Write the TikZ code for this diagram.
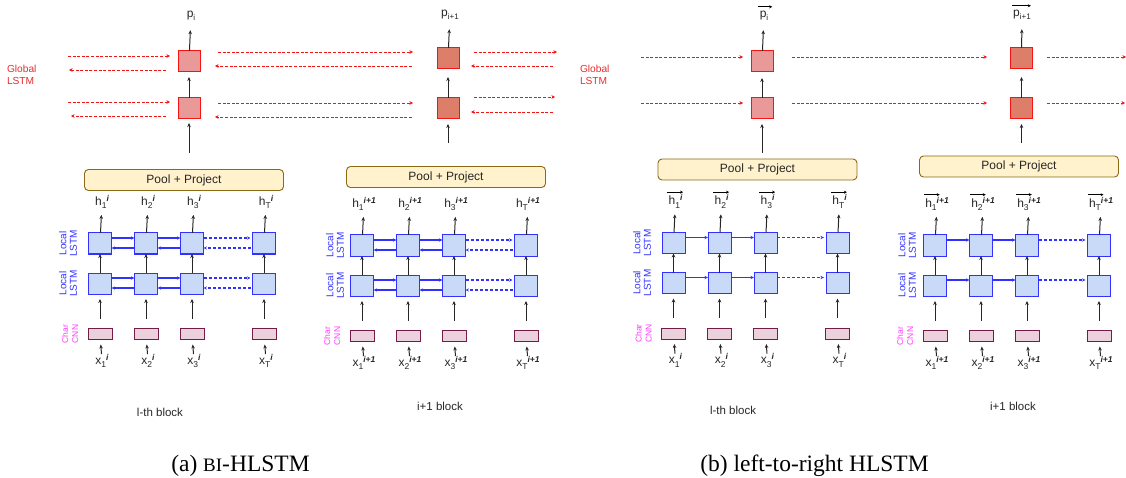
\documentclass[tikz,border=0pt]{standalone}
\usepackage{fontspec}
\setmainfont{Liberation Sans}
\newfontfamily\capfont{Liberation Serif}
\usetikzlibrary{arrows.meta,calc}
\definecolor{gred}{RGB}{245,20,20}
\definecolor{gfillA}{RGB}{234,153,153}
\definecolor{gfillB}{RGB}{221,126,107}
\definecolor{lblue}{RGB}{50,50,255}
\definecolor{lfill}{RGB}{201,218,248}
\definecolor{cnnd}{RGB}{116,27,71}
\definecolor{cnnf}{RGB}{234,209,220}
\definecolor{pooll}{RGB}{140,105,20}
\definecolor{poolf}{RGB}{255,242,204}
\definecolor{magent}{RGB}{255,60,255}
\definecolor{labred}{RGB}{230,45,45}
\newcommand{\hxlab}[3]{#1\raisebox{-3.5pt}{\fontsize{8.5}{9}\selectfont #2}\raisebox{4pt}{\fontsize{8.5}{9}\selectfont\bfseries\itshape #3}}
\newcommand{\plab}[1]{p\raisebox{-3pt}{\fontsize{8}{9}\selectfont #1}}
\tikzset{
  every node/.style={inner sep=0pt, outer sep=0pt},
  gboxA/.style={draw=gred, fill=gfillA, line width=1pt, minimum width=22pt, minimum height=21pt},
  gboxB/.style={gboxA, fill=gfillB},
  lbox/.style={draw=lblue, fill=lfill, line width=1pt, minimum width=23pt, minimum height=21pt},
  cnnbox/.style={draw=cnnd, fill=cnnf, line width=0.9pt, minimum width=24pt, minimum height=11pt},
  poolbox/.style={draw=pooll, fill=poolf, rounded corners=4pt, line width=0.9pt, minimum width=199pt, minimum height=21pt, font=\fontsize{12}{14}\selectfont, text=black!85},
  varr/.style={-{Stealth[length=4pt,width=3.5pt]}, line width=1pt, black!85},
  vecarr/.style={-{Stealth[length=3pt,width=3pt]}, line width=0.8pt, black},
  barr/.style={-{Stealth[length=3.5pt,width=3.2pt]}, line width=1.2pt, lblue},
  bdash/.style={barr, dash pattern=on 3pt off 2pt},
  rdash/.style={-{Stealth[length=3.5pt,width=3.5pt]}, line width=0.8pt, gred, dash pattern=on 3pt off 1.6pt},
  lab/.style={font=\fontsize{12}{14}\selectfont, text=black!85},
  blab/.style={font=\fontsize{11.5}{14}\selectfont, text=black!85},
  loclab/.style={rotate=90, align=center, text=lblue, font=\fontsize{10}{10.5}\selectfont},
  cnnlab/.style={rotate=90, align=center, text=magent, font=\fontsize{8.5}{10}\selectfont},
  caplab/.style={font=\capfont\fontsize{23.5}{28}\selectfont},
}
% #1 prefix, #2 x0, #3 y0, #4 pool y, #5 sup, #6 bidir, #7 vector, #8 label x offset
\newcommand{\lblock}[8]{%
  \node[poolbox] (#1pool) at (#2+84,#4) {Pool + Project};
  \node[loclab] (#1lu) at (#2#8,#3) {Local\\LSTM};
  \node[loclab] (#1ld) at (#2#8,#3+40) {Local\\LSTM};
  \node[cnnlab] (#1lc) at (#2-30,#3+90.5) {Char\\CNN};
  \foreach \k/\dx in {1/0, 2/46, 3/92, T/164} {
    \node[lbox] (#1u\k) at (#2+\dx,#3) {};
    \node[lbox] (#1d\k) at (#2+\dx,#3+40) {};
    \node[cnnbox] (#1c\k) at (#2+\dx,#3+90.5) {};
    \node[lab] (#1h\k) at (#2+\dx+2,#3-41.5) {\hxlab{h}{\k}{#5}};
    \node[lab] (#1x\k) at (#2+\dx+2,#3+117.5) {\hxlab{x}{\k}{#5}};
    \draw[varr, shorten >=5pt] (#1x\k) -- (#1c\k);
    \draw[varr, shorten <=10pt, shorten >=5pt] (#1c\k) -- (#1d\k);
    \draw[varr] (#1d\k) -- (#1u\k);
    \draw[varr, shorten >=6pt] (#1u\k) -- (#1h\k);
    \ifnum#7=1
      \draw[vecarr] ($(#1h\k.north west)+(-1.5,-2.5)$) -- ++(16,0);
    \fi
  }
  \foreach \r in {u,d} {
    \draw[barr] ($(#1\r 1.east)+(0,-5.5)$) -- ($(#1\r 2.west)+(0,-5.5)$);
    \draw[barr] ($(#1\r 2.east)+(0,-5.5)$) -- ($(#1\r 3.west)+(0,-5.5)$);
    \draw[bdash, shorten >=2pt] ($(#1\r 3.east)+(0,-5.5)$) -- ($(#1\r T.west)+(0,-5.5)$);
    \ifnum#6=1
      \draw[barr] ($(#1\r 2.west)+(0,4.5)$) -- ($(#1\r 1.east)+(0,4.5)$);
      \draw[barr] ($(#1\r 3.west)+(0,4.5)$) -- ($(#1\r 2.east)+(0,4.5)$);
      \draw[bdash, shorten <=2pt] ($(#1\r T.west)+(0,4.5)$) -- ($(#1\r 3.east)+(0,4.5)$);
    \fi
  }
}
\begin{document}
\begin{tikzpicture}[x=1pt, y=-1pt]
\useasboundingbox (0,0) rectangle (1126,478);

% ---------- panel (a): global LSTM ----------
\node[font=\fontsize{10.2}{12}\selectfont, text=labred, align=left, anchor=west] (Aglob) at (7,75) {Global\\LSTM};
\node[gboxA] (A1t) at (189,61.5) {};
\node[gboxA] (A1b) at (189,108.5) {};
\node[gboxB] (A2t) at (448,58.5) {};
\node[gboxB] (A2b) at (448,108.5) {};
\node[lab] (Ap1) at (191,15.5) {\plab{i}};
\node[lab] (Ap2) at (450,14.5) {\plab{i+1}};
\coordinate (Ain1) at (189,153);
\coordinate (Ain2) at (448,143);
\draw[varr, shorten >=4pt] (Ain1) -- (A1b);
\draw[varr, shorten >=5pt] (A1b) -- (A1t);
\draw[varr, shorten >=10pt] (A1t) -- (Ap1);
\draw[varr, shorten >=5pt] (Ain2) -- (A2b);
\draw[varr, shorten >=8pt] (A2b) -- (A2t);
\draw[varr, shorten >=10pt] (A2t) -- (Ap2);
\foreach \xa/\ya/\xb/\yb in {
  68/56/170/56, 166/70/69/70, 68/102/170/102, 166/116/71/116,
  218/52/413/52, 412/66/215/66, 218/103/413/103, 412/117/215/117,
  474/52/557/52, 553/66/471/66, 474/97/555/97, 553/112/471/112}
  \draw[rdash] (\xa,\ya) -- (\xb,\yb);

% ---------- panel (a): local blocks ----------
\lblock{AL}{100}{243.5}{180}{i}{1}{0}{-32}
\lblock{AR}{362}{245.5}{177}{i+1}{1}{0}{-27}
\node[blab] (Ablk1) at (160,412) {l-th block};
\node[blab] (Ablk2) at (440,406) {i+1 block};

% ---------- panel (b): global LSTM ----------
\node[font=\fontsize{10.2}{12}\selectfont, text=labred, align=left, anchor=west] (Bglob) at (580,75) {Global\\LSTM};
\node[gboxA] (B1t) at (762,61.5) {};
\node[gboxA] (B1b) at (762,108.5) {};
\node[gboxB] (B2t) at (1021.5,58.5) {};
\node[gboxB] (B2b) at (1021.5,108.5) {};
\node[lab] (Bp1) at (764,15.5) {\plab{i}};
\node[lab] (Bp2) at (1022,14.5) {\plab{i+1}};
\draw[vecarr] ($(Bp1.north west)+(-2,-4)$) -- ($(Bp1.north east)+(4,-4)$);
\draw[vecarr] ($(Bp2.north west)+(-1,-4)$) -- ($(Bp2.north east)+(0,-4)$);
\coordinate (Bin1) at (762,153);
\coordinate (Bin2) at (1021.5,143);
\draw[varr, shorten >=5pt] (Bin1) -- (B1b);
\draw[varr, shorten >=6pt] (B1b) -- (B1t);
\draw[varr, shorten >=10pt] (B1t) -- (Bp1);
\draw[varr, shorten >=5pt] (Bin2) -- (B2b);
\draw[varr, shorten >=8pt] (B2b) -- (B2t);
\draw[varr, shorten >=10pt] (B2t) -- (Bp2);
\foreach \xa/\ya/\xb/\yb in {
  641/57/743/57, 641/103/743/103,
  792/57/987/57, 792/103/987/103,
  1047/57/1126/57, 1047/103/1125/103}
  \draw[rdash] (\xa,\ya) -- (\xb,\yb);

% ---------- panel (b): local blocks ----------
\lblock{BL}{673.5}{243}{169.5}{i}{0}{1}{-31.5}
\lblock{BR}{935}{245.5}{166.5}{i+1}{0}{1}{-28}
\node[blab] (Bblk1) at (733,410) {l-th block};
\node[blab] (Bblk2) at (1013,406) {i+1 block};

% ---------- captions ----------
\node[caplab] (capA) at (240.5,466) {(a) {\fontsize{19}{20}\selectfont BI}-HLSTM};
\node[caplab] (capB) at (814.5,466) {(b) left-to-right HLSTM};
\end{tikzpicture}
\end{document}
